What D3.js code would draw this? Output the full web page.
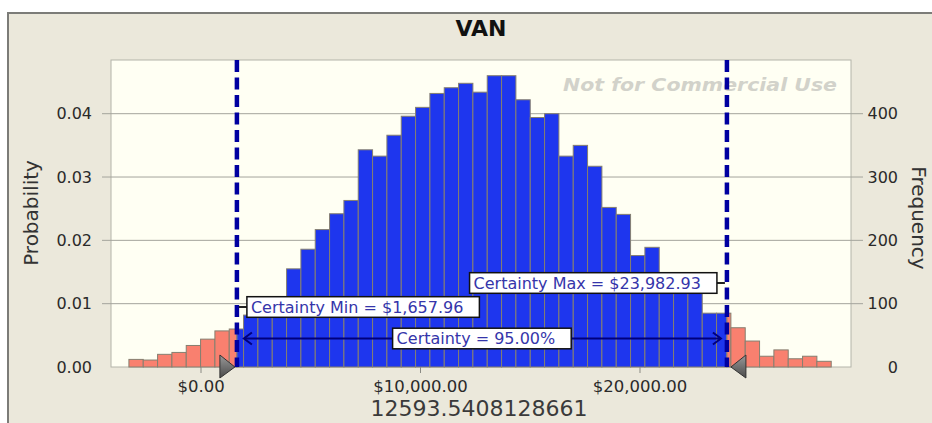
<!DOCTYPE html>
<html>
<head>
<meta charset="utf-8">
<script src="https://cdn.jsdelivr.net/npm/d3@7/dist/d3.min.js"></script>
<style>
body { margin: 0; background: #fff; }
text { font-family: "DejaVu Sans", sans-serif; }
</style>
</head>
<body>
<div id="chart"></div>
<script>
// histogram of the forecast (10000 trials)
var title = "VAN";
var binStart = -3262;
var binWidth = 653;
var frequency = [12, 11, 20, 23, 34, 44, 57, 60, 82, 92, 104, 155, 186, 217, 242, 263,
    343, 333, 366, 396, 410, 432, 441, 448, 434, 460, 460, 422, 394, 400, 333, 350,
    317, 252, 241, 176, 189, 135, 128, 118, 85, 85, 62, 41, 17, 27, 13, 17, 9];
var trials = 10000;

// certainty range
var certMin = 1657.96;
var certMax = 23982.93;
var certaintyPct = 95.00;

// ticks
var xTicks = [0, 10000, 20000];
var probTicks = [0, 0.01, 0.02, 0.03, 0.04];
var freqTicks = [0, 100, 200, 300, 400];
var meanLabel = "12593.5408128661";

var W = 932, H = 423;
var plot = { left: 111, right: 851, top: 60, bottom: 367 };

var svg = d3.select("#chart").append("svg")
    .attr("width", W)
    .attr("height", H);

// set the ranges
var x = d3.scaleLinear().domain([-4078, 29636]).range([plot.left, plot.right]);
var yP = d3.scaleLinear().domain([0, 0.04848]).range([plot.bottom, plot.top]);
var yF = d3.scaleLinear().domain([0, 0.04848 * trials]).range([plot.bottom, plot.top]);

// panel and plot background
svg.append("rect")
    .attr("x", 8).attr("y", 13)
    .attr("width", W + 10).attr("height", H)
    .attr("fill", "#ebe8db")
    .attr("stroke", "#7c7c78")
    .attr("stroke-width", 2);

svg.append("rect")
    .attr("x", plot.left).attr("y", plot.top)
    .attr("width", plot.right - plot.left)
    .attr("height", plot.bottom - plot.top)
    .attr("fill", "#fffff3")
    .attr("stroke", "#b4b4aa");

// grid lines (also the tick marks on both sides)
svg.append("g").selectAll("line")
    .data(probTicks.filter(function (d) { return d > 0; }))
    .enter().append("line")
    .attr("x1", plot.left - 9).attr("x2", plot.right + 12)
    .attr("y1", function (d) { return yP(d); })
    .attr("y2", function (d) { return yP(d); })
    .attr("stroke", "#a4a49c");

// watermark
svg.append("text")
    .attr("x", plot.right - 14)
    .attr("y", 91)
    .attr("text-anchor", "end")
    .attr("textLength", 274)
    .attr("lengthAdjust", "spacingAndGlyphs")
    .style("font-size", "18px")
    .style("font-style", "italic")
    .style("font-weight", "bold")
    .style("fill", "#d2d2ca")
    .text("Not for Commercial Use");

// split the bins at the certainty limits
var segs = [];
frequency.forEach(function (f, i) {
    var lo = binStart + i * binWidth, hi = lo + binWidth;
    if (lo < certMin) segs.push({ lo: lo, hi: Math.min(hi, certMin), f: f, inside: false });
    if (hi > certMin && lo < certMax) segs.push({ lo: Math.max(lo, certMin), hi: Math.min(hi, certMax), f: f, inside: true });
    if (hi > certMax) segs.push({ lo: Math.max(lo, certMax), hi: hi, f: f, inside: false });
});

svg.append("g").selectAll("rect")
    .data(segs)
    .enter().append("rect")
    .attr("x", function (d) { return x(d.lo); })
    .attr("width", function (d) { return x(d.hi) - x(d.lo); })
    .attr("y", function (d) { return yF(d.f); })
    .attr("height", function (d) { return plot.bottom - yF(d.f); })
    .attr("fill", function (d) { return d.inside ? "#1e36ee" : "#f9806f"; })
    .attr("stroke", "#857f70")
    .attr("stroke-width", 1);

// Add the left axis
var left = svg.append("g")
    .attr("transform", "translate(" + plot.left + ",0)")
    .call(d3.axisLeft(yP).tickValues(probTicks).tickFormat(d3.format(".2f")).tickSize(0).tickPadding(19));
left.select(".domain").remove();
left.selectAll("text").style("font-size", "16px").style("fill", "#2a2a2a").style("font-family", "DejaVu Sans");

// Add the right axis
var right = svg.append("g")
    .attr("transform", "translate(" + plot.right + ",0)")
    .call(d3.axisRight(yF).tickValues(freqTicks).tickSize(0));
right.select(".domain").remove();
right.selectAll("text")
    .attr("x", 47)
    .attr("text-anchor", "end")
    .style("font-size", "16px").style("fill", "#2a2a2a").style("font-family", "DejaVu Sans");

// Add the X Axis
var bottom = svg.append("g")
    .attr("transform", "translate(0," + plot.bottom + ")")
    .call(d3.axisBottom(x).tickValues(xTicks)
        .tickFormat(function (d) { return "$" + d3.format(",.2f")(d); })
        .tickSize(6).tickPadding(8));
bottom.select(".domain").remove();
bottom.selectAll("line").attr("stroke", "#8a8a84");
bottom.selectAll("text")
    .style("font-size", "15px").style("fill", "#2a2a2a").style("font-family", "DejaVu Sans")
    .each(function () {
        // a little wider, like the original font
        var len = this.getComputedTextLength();
        d3.select(this).attr("textLength", len * 1.1).attr("lengthAdjust", "spacingAndGlyphs");
    });

// axis titles
svg.append("text")
    .attr("transform", "translate(38," + 213 + ") rotate(-90)")
    .attr("text-anchor", "middle")
    .style("font-size", "20px").style("fill", "#333")
    .text("Probability");

svg.append("text")
    .attr("transform", "translate(912," + 218 + ") rotate(90)")
    .attr("text-anchor", "middle")
    .style("font-size", "20px").style("fill", "#333")
    .text("Frequency");

svg.append("text")
    .attr("x", (plot.left + plot.right) / 2)
    .attr("y", 36)
    .attr("text-anchor", "middle")
    .style("font-size", "22px").style("font-weight", "bold").style("fill", "#111")
    .text(title);

svg.append("text")
    .attr("x", (plot.left + plot.right) / 2 - 2)
    .attr("y", 416)
    .attr("text-anchor", "middle")
    .style("font-size", "22px").style("fill", "#3a3a3a")
    .text(meanLabel);

// certainty lines
var xMin = x(certMin), xMax = x(certMax);
svg.append("g").selectAll("line")
    .data([certMin, certMax])
    .enter().append("line")
    .attr("x1", function (d) { return x(d); })
    .attr("x2", function (d) { return x(d); })
    .attr("y1", plot.top).attr("y2", plot.bottom)
    .attr("stroke", "#0000a0")
    .attr("stroke-width", 4.5)
    .attr("stroke-dasharray", "12,5.5");

// double arrow
var arrowY = 338.5;
svg.append("line")
    .attr("x1", xMin + 7).attr("x2", xMax - 6)
    .attr("y1", arrowY).attr("y2", arrowY)
    .attr("stroke", "#00007c").attr("stroke-width", 2);
svg.append("path")
    .attr("d", "M" + (xMin + 15) + "," + (arrowY - 6) + "L" + (xMin + 7) + "," + arrowY + "L" + (xMin + 15) + "," + (arrowY + 6)
        + "M" + (xMax - 14) + "," + (arrowY - 6) + "L" + (xMax - 6) + "," + arrowY + "L" + (xMax - 14) + "," + (arrowY + 6))
    .attr("fill", "none").attr("stroke", "#00007c").attr("stroke-width", 2);

// connectors
svg.append("line").attr("x1", xMin + 2).attr("x2", xMin + 10).attr("y1", 307).attr("y2", 307)
    .attr("stroke", "#222").attr("stroke-width", 2);
svg.append("line").attr("x1", xMax - 10).attr("x2", xMax - 2).attr("y1", 283).attr("y2", 283)
    .attr("stroke", "#222").attr("stroke-width", 2);

// label boxes
function labelBox(txt, anchorX, align, cy) {
    var g = svg.append("g");
    var t = g.append("text")
        .attr("y", cy + 5.5)
        .style("font-size", "16px")
        .style("fill", "#3535aa")
        .text(txt);
    var w = t.node().getComputedTextLength() + 20;
    var bx = align === "left" ? anchorX : align === "right" ? anchorX - w : anchorX - w / 2;
    t.attr("x", bx + 4);
    g.insert("rect", "text")
        .attr("x", bx).attr("y", cy - 10.3)
        .attr("width", w).attr("height", 20.6)
        .attr("fill", "#fff")
        .attr("stroke", "#111").attr("stroke-width", 1.5);
}
var fmt = d3.format(",.2f");
labelBox("Certainty Max = $" + fmt(certMax), xMax - 10, "right", 283);
labelBox("Certainty Min = $" + fmt(certMin), xMin + 10, "left", 307);
labelBox("Certainty = " + certaintyPct.toFixed(2) + "%", (xMin + xMax) / 2, "middle", arrowY);

// grabber triangles
var grad = svg.append("defs").append("linearGradient")
    .attr("id", "tri").attr("x1", 0).attr("y1", 0).attr("x2", 0).attr("y2", 1);
grad.append("stop").attr("offset", "0%").attr("stop-color", "#9a9a9a");
grad.append("stop").attr("offset", "100%").attr("stop-color", "#4a4a4a");

svg.append("path")
    .attr("d", "M" + (xMin - 17) + ",355L" + (xMin - 2) + ",367L" + (xMin - 17) + ",378Z")
    .attr("fill", "url(#tri)").attr("stroke", "#333");
svg.append("path")
    .attr("d", "M" + (xMax + 19) + ",355L" + (xMax + 4) + ",367L" + (xMax + 19) + ",378Z")
    .attr("fill", "url(#tri)").attr("stroke", "#333");
</script>
</body>
</html>
